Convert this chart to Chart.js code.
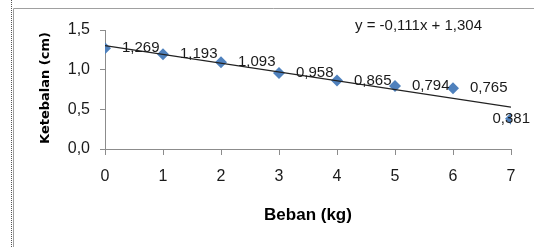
<!DOCTYPE html>
<html>
<head>
<meta charset="utf-8">
<script src="https://cdn.jsdelivr.net/npm/chart.js@4"></script>
<style>
  html, body { margin: 0; padding: 0; background: #fff; }
  #wrap { width: 534px; height: 247px; }
</style>
</head>
<body>
<div id="wrap"><canvas id="myChart" width="534" height="247"></canvas></div>
<script>
// data
const beban = [0, 1, 2, 3, 4, 5, 6, 7];
const ketebalan = [1.269, 1.193, 1.093, 0.958, 0.865, 0.794, 0.765, 0.381];
const trendX = [0, 7];
const trendY = [1.304, 0.527];
const xTicks = [0, 1, 2, 3, 4, 5, 6, 7];
const yTicks = [0, 0.5, 1.0, 1.5];
const equation = 'y = -0,111x + 1,304';
const xTitle = 'Beban (kg)';
const yTitle = 'Ketebalan (cm)';

const fmt = (v, d) => v.toFixed(d).replace('.', ',');
const axisGray = '#8c8c8c';
const textColor = '#1a1a1a';

// frame, axis titles, equation and point labels
const decorPlugin = {
  id: 'decor',
  beforeDraw(chart) {
    const ctx = chart.ctx;
    ctx.save();
    ctx.fillStyle = '#fff';
    ctx.fillRect(0, 0, chart.width, chart.height);
    // outer frame (only top and left visible)
    ctx.strokeStyle = '#a0a0a0';
    ctx.lineWidth = 1;
    ctx.beginPath();
    ctx.moveTo(13.5, 8.5);
    ctx.lineTo(chart.width, 8.5);
    ctx.moveTo(13.5, 8.5);
    ctx.lineTo(13.5, chart.height);
    ctx.stroke();
    // dotted edge
    ctx.strokeStyle = '#555';
    ctx.setLineDash([1, 1]);
    ctx.beginPath();
    ctx.moveTo(11.5, 0);
    ctx.lineTo(11.5, chart.height);
    ctx.stroke();
    ctx.restore();
  },
  afterDatasetsDraw(chart) {
    const ctx = chart.ctx;
    const meta = chart.getDatasetMeta(1);
    ctx.save();
    ctx.fillStyle = textColor;
    ctx.font = '15px "Liberation Sans", Arial, sans-serif';
    ctx.textBaseline = 'middle';
    ctx.textAlign = 'left';
    meta.data.forEach((pt, i) => {
      const txt = fmt(ketebalan[i], 3);
      const w = ctx.measureText(txt).width;
      let x = pt.x + 17;
      if (x + w > chart.width - 4) x = chart.width - 4 - w;
      ctx.fillText(txt, x, pt.y);
    });
    // equation
    ctx.fillText(equation, 355, 26);
    // x title
    ctx.font = 'bold 17px "Liberation Sans", Arial, sans-serif';
    ctx.textAlign = 'center';
    ctx.fillStyle = '#000';
    ctx.fillText(xTitle, 308, 215);
    // y title
    ctx.translate(46, 88);
    ctx.rotate(-Math.PI / 2);
    ctx.font = 'bold 13px "DejaVu Sans", Verdana, sans-serif';
    ctx.fillText(yTitle, 0, 0);
    ctx.restore();
  }
};

const chart = new Chart(document.getElementById('myChart'), {
  type: 'scatter',
  data: {
    datasets: [
      {
        label: 'Linear',
        data: trendX.map((x, i) => ({ x, y: trendY[i] })),
        showLine: true,
        borderColor: '#222',
        borderWidth: 1.3,
        pointRadius: 0,
        fill: false
      },
      {
        label: 'Ketebalan',
        data: beban.map((x, i) => ({ x, y: ketebalan[i] })),
        pointStyle: 'rectRot',
        pointRadius: 6,
        pointHoverRadius: 6,
        backgroundColor: '#4f81bd',
        borderColor: '#4f81bd',
        borderWidth: 0
      }
    ]
  },
  options: {
    responsive: false,
    animation: false,
    layout: { padding: { left: 0, right: 23, top: 30, bottom: 0 } },
    plugins: {
      legend: { display: false },
      tooltip: { enabled: false }
    },
    scales: {
      x: {
        type: 'linear',
        min: 0,
        max: 7,
        afterFit: (s) => { s.height = 98; },
        afterBuildTicks: (s) => { s.ticks = xTicks.map(v => ({ value: v })); },
        grid: { drawOnChartArea: false, drawTicks: true, tickLength: 6, color: axisGray },
        border: { display: true, color: axisGray, width: 1 },
        ticks: {
          padding: 12,
          color: textColor,
          font: { family: '"Liberation Sans", Arial, sans-serif', size: 16 },
          callback: (v) => String(v)
        }
      },
      y: {
        type: 'linear',
        min: 0,
        max: 1.5,
        afterFit: (s) => { s.width = 105; },
        afterBuildTicks: (s) => { s.ticks = yTicks.map(v => ({ value: v })); },
        grid: { drawOnChartArea: false, drawTicks: true, tickLength: 5, color: axisGray },
        border: { display: true, color: axisGray, width: 1 },
        ticks: {
          padding: 10,
          color: textColor,
          font: { family: '"Liberation Sans", Arial, sans-serif', size: 16 },
          callback: (v) => fmt(v, 1)
        }
      }
    }
  },
  plugins: [decorPlugin]
});
</script>
</body>
</html>
